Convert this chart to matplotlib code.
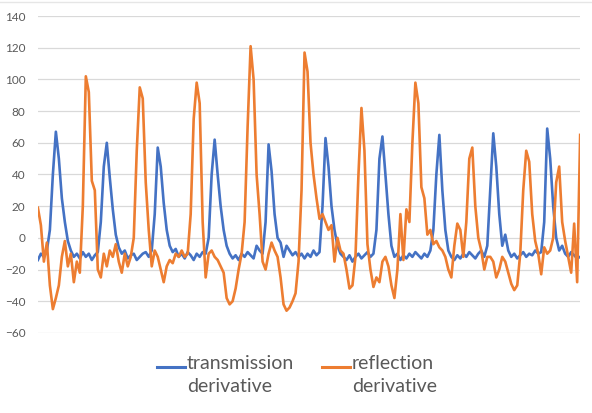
import numpy as np
import matplotlib
matplotlib.use("Agg")
import matplotlib.pyplot as plt
from matplotlib.lines import Line2D

plt.rcParams['font.family'] = ['Lato', 'DejaVu Sans']

# transmission derivative (blue), one value per sample
transmission = [-14, -10, -12, -8, 5, 40, 67, 50, 25, 10, -2, -8, -12, -10, -13, -9, -12, -10, -14, -11,
                -9, 10, 45, 60, 38, 18, 2, -6, -10, -8, -13, -11, -10, -14, -12, -10, -9, -12, -8, 15,
                57, 45, 22, 5, -5, -9, -7, -12, -10, -13, -9, -11, -14, -10, -12, -9, -10, 0, 40, 62,
                40, 20, 5, -5, -10, -13, -11, -14, -10, -12, -9, -11, -13, -5, -8, -10, 10, 59, 42, 15,
                0, -3, -12, -5, -8, -11, -9, -12, -10, -13, -10, -12, -8, -11, -9, 20, 63, 45, 20, 5,
                -5, -10, -12, -14, -11, -15, -12, -10, -13, -11, -9, -12, -10, 5, 50, 64, 40, 15, -5, -12,
                -10, -14, -11, -13, -10, -12, -9, -11, -13, -10, -12, -8, 5, 40, 65, 30, 5, -8, -12, -14,
                -11, -13, -10, -12, -9, -11, -13, -10, -8, -12, -5, 30, 66, 45, 15, -5, 2, -8, -12, -10,
                -13, -11, -9, -12, -10, -11, -8, -10, -9, 10, 69, 50, 20, 0, -8, -5, -10, -12, -9, -11,
                -13, -12]

# reflection derivative (orange)
reflection = [19, 8, -15, -3, -30, -45, -38, -30, -12, -2, -18, -10, -28, -15, -22, 20, 102, 92, 36, 30,
              -20, -25, -10, -18, -8, -12, -4, -15, -22, -10, -18, -12, 0, 55, 95, 88, 35, 5, -18, -8,
              -12, -20, -28, -18, -14, -16, -10, -12, -8, -12, -10, 15, 75, 98, 85, 10, -25, -10, -8, -12,
              -14, -18, -22, -38, -42, -40, -32, -20, -10, 10, 70, 121, 100, 40, 15, -15, -20, -10, -3, -8,
              -12, -25, -42, -46, -44, -40, -35, -15, 30, 117, 105, 60, 40, 25, 12, 15, 10, 5, 8, -15,
              0, -8, -10, -20, -32, -30, -12, 40, 82, 55, -4, -20, -31, -25, -28, -15, -12, -18, -30, -38,
              -20, 15, -14, 18, 10, 60, 98, 85, 32, 25, 2, 5, -4, -2, -6, -8, -12, -20, -25, -5,
              9, 5, -12, 10, 50, 57, 20, 0, -8, -20, -12, -12, -15, -25, -20, -12, -15, -22, -29, -33,
              -30, -10, 30, 55, 48, 15, -2, -10, -23, -6, -10, -8, 0, 35, 45, 10, -2, -12, -22, 9,
              -28, 65]

y_ticks = [-60, -40, -20, 0, 20, 40, 60, 80, 100, 120, 140]

blue = '#4472C4'
orange = '#ED7D31'
grey_text = '#595959'

x = np.arange(len(transmission))

fig = plt.figure(figsize=(5.92, 4.13), dpi=100)
ax = fig.add_axes([0.064, 0.194, 0.916, 0.767])

ax.plot(x, transmission, color=blue, lw=1.9, zorder=3)
ax.plot(x, reflection, color=orange, lw=1.9, zorder=4)

ax.set_xlim(0, len(transmission) - 1)
ax.set_ylim(-60, 140)
ax.set_yticks(y_ticks)
ax.set_xticks([])
ax.grid(axis='y', color='#D9D9D9', lw=0.9, zorder=0)
ax.tick_params(axis='y', length=0, pad=9, labelsize=8.5, labelcolor=grey_text)
for s in ax.spines.values():
    s.set_visible(False)

# legend below the plot, handle beside the first line of each label
fig.add_artist(Line2D([157 / 592, 185 / 592], [1 - 367 / 413] * 2, color=blue, lw=2.2))
fig.text(187 / 592, 1 - 355 / 413, 'transmission\nderivative', color=grey_text, fontsize=14,
         va='top', ha='left', linespacing=1.4)
fig.add_artist(Line2D([322 / 592, 350 / 592], [1 - 367 / 413] * 2, color=orange, lw=2.2))
fig.text(352 / 592, 1 - 355 / 413, 'reflection\nderivative', color=grey_text, fontsize=14,
         va='top', ha='left', linespacing=1.4)

# faint chart border at the top
fig.add_artist(Line2D([0, 1], [1 - 2 / 413] * 2, color='#E6E6E6', lw=1))

fig.savefig('out.png', dpi=100)
